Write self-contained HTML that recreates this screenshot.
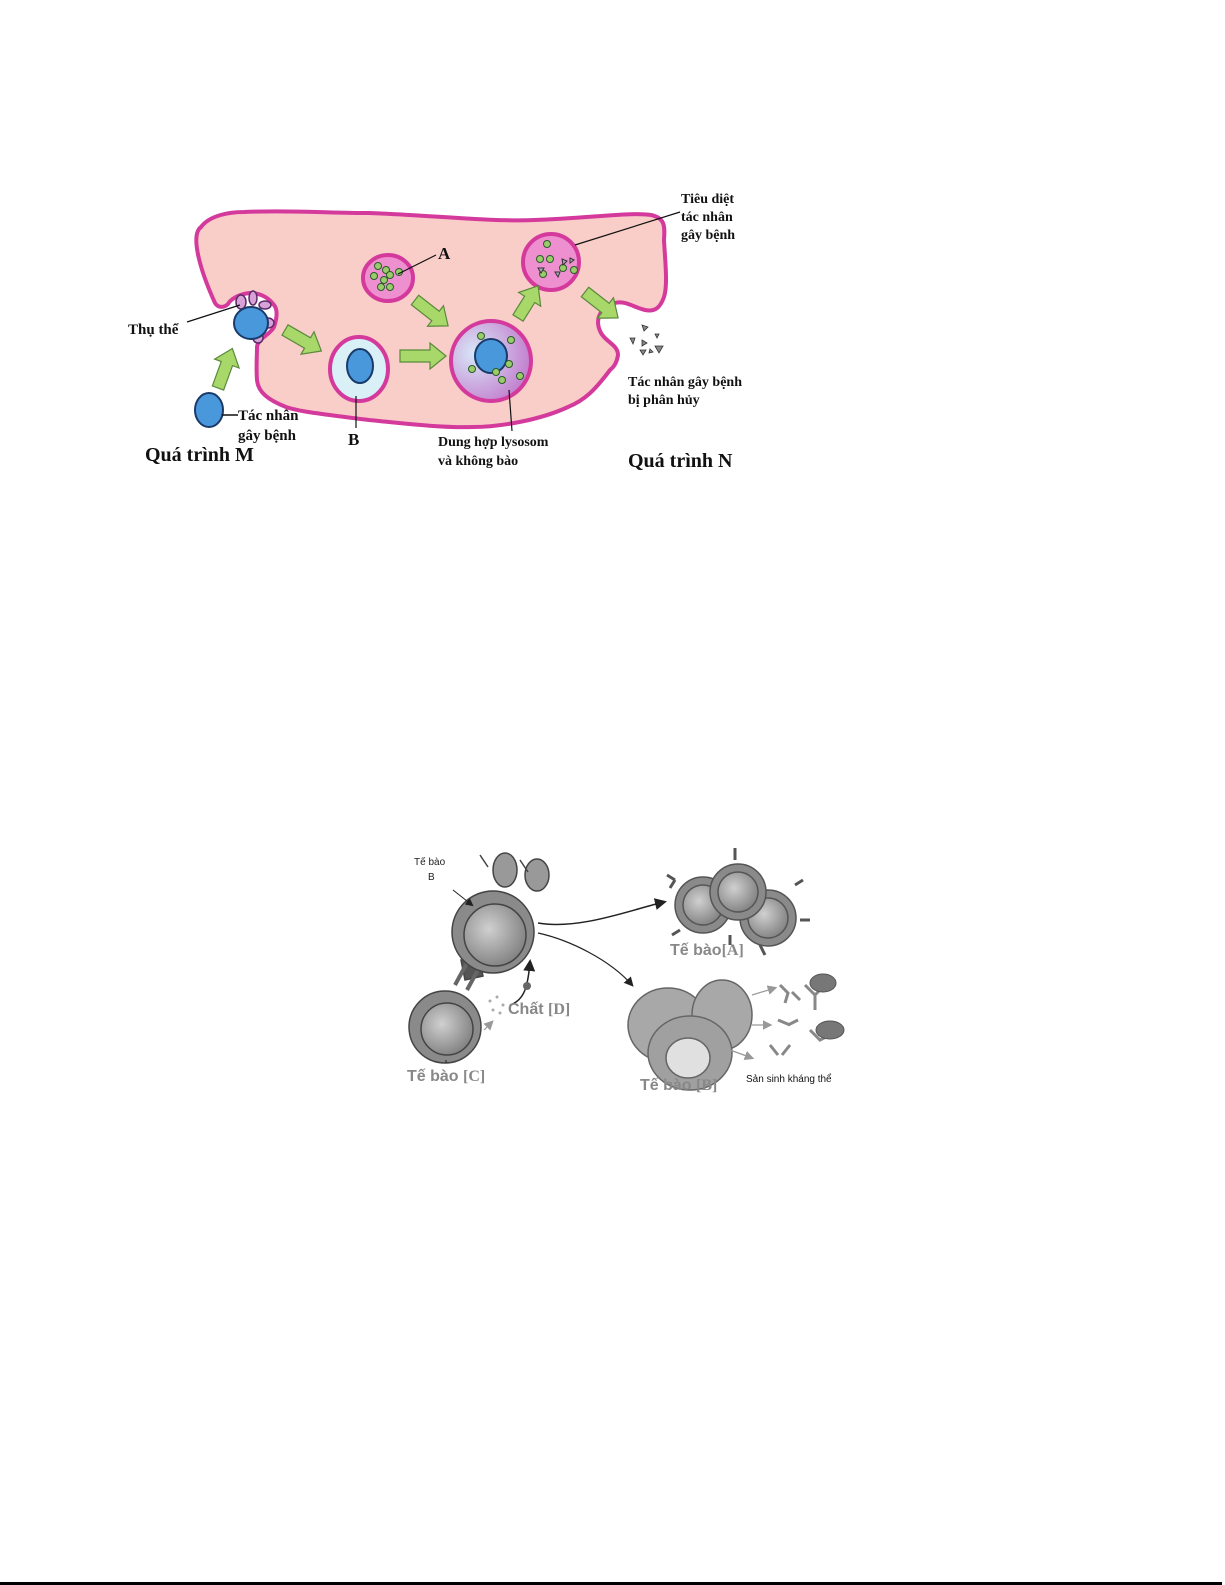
<!DOCTYPE html>
<html><head><meta charset="utf-8">
<style>
html,body{margin:0;padding:0;background:#fff;}
svg{display:block;}
.t{font-family:"Liberation Serif",serif;font-weight:bold;fill:#111;}
.g{font-family:"Liberation Sans",sans-serif;font-weight:bold;fill:#888;}
</style></head><body>
<svg width="1225" height="1585" viewBox="0 0 1225 1585" xmlns="http://www.w3.org/2000/svg">
<defs>
<radialGradient id="fus" cx="0.3" cy="0.4" r="0.8"><stop offset="0" stop-color="#d8e8f8"/><stop offset="1" stop-color="#c070c8"/></radialGradient>
<radialGradient id="gc" cx="0.4" cy="0.4" r="0.7"><stop offset="0" stop-color="#d0d0d0"/><stop offset="1" stop-color="#7a7a7a"/></radialGradient>
<marker id="ah" markerWidth="8" markerHeight="8" refX="6" refY="4" orient="auto"><path d="M0,0 L8,4 L0,8 z" fill="#222"/></marker>
<marker id="ag" markerWidth="8" markerHeight="8" refX="6" refY="4" orient="auto"><path d="M0,0 L8,4 L0,8 z" fill="#999"/></marker>
</defs>
<!-- cell -->
<path d="M215,303 C200,270 190,235 201,227 C210,215 230,212 244,212 C290,210 330,213 369,213 C430,215 490,222 535,220 C590,218 630,212 651,215 C665,218 665,226 664,240 C665,260 668,285 664,297 C660,308 655,312 645,310 C635,308 625,300 615,303 C600,307 594,320 601,333 C606,342 618,345 618,355 C617,362 614,367 610,370 C595,390 585,400 568,407 C540,420 500,427 473,427 C440,428 400,423 369,420 C330,415 300,412 286,407 C268,400 258,392 257,380 C256,368 257,355 257,347 C258,338 270,335 274,327 C277,318 278,310 274,305 C268,297 260,293 250,293 C238,294 230,300 228,304 C224,308 218,308 215,303 Z" fill="#f9cdc8" stroke="#d4399c" stroke-width="4"/>
<!-- receptor cell -->
<ellipse cx="241" cy="302" rx="5" ry="7" fill="#d9a2d6" stroke="#5a2a6a" stroke-width="1.5"/>
<ellipse cx="253" cy="298" rx="4" ry="7" fill="#d9a2d6" stroke="#5a2a6a" stroke-width="1.5"/>
<ellipse cx="265" cy="305" rx="6" ry="4" fill="#d9a2d6" stroke="#5a2a6a" stroke-width="1.5"/>
<ellipse cx="268" cy="323" rx="6" ry="5" fill="#d9a2d6" stroke="#5a2a6a" stroke-width="1.5"/>
<ellipse cx="258" cy="338" rx="5" ry="5" fill="#d9a2d6" stroke="#5a2a6a" stroke-width="1.5"/>
<ellipse cx="251" cy="323" rx="17" ry="16" fill="#4a98dc" stroke="#1a3a6a" stroke-width="2"/>
<!-- pathogen -->
<ellipse cx="209" cy="410" rx="14" ry="17" fill="#4a98dc" stroke="#1a3a6a" stroke-width="2"/>
<line x1="222" y1="415" x2="238" y2="415" stroke="#111" stroke-width="1.5"/>
<!-- A vesicle -->
<ellipse cx="388" cy="278" rx="25" ry="23" fill="#ee8fd0" stroke="#d4399c" stroke-width="4"/>
<g fill="#9acd6a" stroke="#2a5a2a" stroke-width="1">
<circle cx="378" cy="266" r="3.5"/><circle cx="386" cy="270" r="3.5"/><circle cx="374" cy="276" r="3.5"/><circle cx="384" cy="280" r="3.5"/><circle cx="390" cy="275" r="3.5"/><circle cx="399" cy="272" r="3.5"/><circle cx="381" cy="287" r="3.5"/><circle cx="390" cy="287" r="3.5"/></g>
<line x1="398" y1="274" x2="436" y2="255" stroke="#111" stroke-width="1.2"/>
<!-- top right vesicle -->
<ellipse cx="551" cy="262" rx="28" ry="28" fill="#ee8fd0" stroke="#d4399c" stroke-width="4"/>
<g fill="#9acd6a" stroke="#2a5a2a" stroke-width="1">
<circle cx="547" cy="244" r="3.5"/><circle cx="540" cy="259" r="3.5"/><circle cx="550" cy="259" r="3.5"/><circle cx="563" cy="268" r="3.5"/><circle cx="574" cy="270" r="3.5"/><circle cx="543" cy="274" r="3.5"/></g>
<g fill="#aab" stroke="#333" stroke-width="1"><path d="M538,268 l6,0 l-3,5z"/><path d="M562,259 l5,2 l-4,4z"/><path d="M555,272 l5,0 l-2,5z"/><path d="M570,258 l4,2 l-4,3z"/></g>
<line x1="575" y1="245" x2="680" y2="212" stroke="#111" stroke-width="1.2"/>
<!-- B vesicle -->
<ellipse cx="359" cy="369" rx="29" ry="32" fill="#d8f0f6" stroke="#d4399c" stroke-width="4"/>
<ellipse cx="360" cy="366" rx="13" ry="17" fill="#4a98dc" stroke="#1a3a6a" stroke-width="2"/>
<line x1="356" y1="396" x2="356" y2="428" stroke="#111" stroke-width="1.2"/>
<!-- fusion vesicle -->
<ellipse cx="491" cy="361" rx="40" ry="40" fill="url(#fus)" stroke="#d4399c" stroke-width="4"/>
<ellipse cx="491" cy="356" rx="16" ry="17" fill="#4a98dc" stroke="#1a3a6a" stroke-width="2"/>
<g fill="#9acd6a" stroke="#2a5a2a" stroke-width="1">
<circle cx="481" cy="336" r="3.5"/><circle cx="511" cy="340" r="3.5"/><circle cx="472" cy="369" r="3.5"/><circle cx="509" cy="364" r="3.5"/><circle cx="496" cy="372" r="3.5"/><circle cx="502" cy="380" r="3.5"/><circle cx="520" cy="376" r="3.5"/></g>
<line x1="509" y1="390" x2="512" y2="431" stroke="#111" stroke-width="1.2"/>
<!-- thu the line -->
<line x1="187" y1="322" x2="240" y2="305" stroke="#111" stroke-width="1.2"/>
<!-- green arrows -->
<g fill="#a8d86a" stroke="#5a8a3a" stroke-width="1.2">
<path d="M0,-6 L26,-6 L26,-13 L42,0 L26,13 L26,6 L0,6 Z" transform="translate(218,388) rotate(-70)"/>
<path d="M0,-6 L26,-6 L26,-13 L42,0 L26,13 L26,6 L0,6 Z" transform="translate(285,330) rotate(30)"/>
<path d="M0,-6 L30,-6 L30,-13 L46,0 L30,13 L30,6 L0,6 Z" transform="translate(400,356) rotate(0)"/>
<path d="M0,-6 L26,-6 L26,-13 L42,0 L26,13 L26,6 L0,6 Z" transform="translate(415,300) rotate(38)"/>
<path d="M0,-6 L22,-6 L22,-13 L38,0 L22,13 L22,6 L0,6 Z" transform="translate(518,318) rotate(-58)"/>
<path d="M0,-6 L26,-6 L26,-13 L42,0 L26,13 L26,6 L0,6 Z" transform="translate(585,292) rotate(38)"/>
</g>
<!-- debris -->
<g fill="#888" stroke="#333" stroke-width="0.8"><path d="M642,325 l6,2 l-4,4z"/><path d="M630,338 l5,0 l-2,6z"/><path d="M642,340 l5,3 l-5,3z"/><path d="M655,334 l4,0 l-2,4z"/><path d="M640,350 l6,0 l-3,5z"/><path d="M655,346 l8,0 l-4,7z"/><path d="M650,349 l3,3 l-4,1z"/></g>
<!-- labels top -->
<text class="t" x="128" y="334" font-size="15">Thụ thể</text>
<text class="t" x="438" y="259" font-size="17">A</text>
<text class="t" x="681" y="203" font-size="14">Tiêu diệt</text>
<text class="t" x="681" y="221" font-size="14">tác nhân</text>
<text class="t" x="681" y="239" font-size="14">gây bệnh</text>
<text class="t" x="238" y="420" font-size="15">Tác nhân</text>
<text class="t" x="238" y="440" font-size="15">gây bệnh</text>
<text class="t" x="348" y="445" font-size="17">B</text>
<text class="t" x="438" y="446" font-size="14">Dung hợp lysosom</text>
<text class="t" x="438" y="465" font-size="14">và không bào</text>
<text class="t" x="628" y="386" font-size="14">Tác nhân gây bệnh</text>
<text class="t" x="628" y="404" font-size="14">bị phân hủy</text>
<text class="t" x="145" y="461" font-size="20">Quá trình M</text>
<text class="t" x="628" y="467" font-size="20">Quá trình N</text>

<!-- bottom diagram -->
<g stroke="#444" stroke-width="1.5" fill="#999">
<ellipse cx="505" cy="870" rx="12" ry="17"/><ellipse cx="537" cy="875" rx="12" ry="16"/>
<path d="M480,855 l8,12 M520,860 l8,12" fill="none"/>
<path d="M461,960 l18,-2 l4,18 l-18,4z" fill="#555"/>
<path d="M455,985 l12,-22 M467,990 l12,-22" fill="none" stroke="#666" stroke-width="4"/>
</g>
<circle cx="493" cy="932" r="41" fill="#8a8a8a" stroke="#444" stroke-width="1.5"/>
<circle cx="495" cy="935" r="31" fill="url(#gc)" stroke="#444" stroke-width="1.5"/>
<circle cx="445" cy="1027" r="36" fill="#8a8a8a" stroke="#444" stroke-width="1.5"/>
<circle cx="447" cy="1029" r="26" fill="url(#gc)" stroke="#444" stroke-width="1.5"/>
<line x1="441" y1="1062" x2="441" y2="1062" stroke="#222"/>
<line x1="446" y1="1063" x2="446" y2="1060" stroke="#222"/>
<line x1="453" y1="890" x2="472" y2="905" stroke="#222" marker-end="url(#ah)"/>
<!-- cells A -->
<g stroke="#555" stroke-width="1.5">
<circle cx="703" cy="905" r="28" fill="#8a8a8a"/><circle cx="703" cy="905" r="20" fill="url(#gc)"/>
<circle cx="768" cy="918" r="28" fill="#8a8a8a"/><circle cx="768" cy="918" r="20" fill="url(#gc)"/>
<circle cx="738" cy="892" r="28" fill="#8a8a8a"/><circle cx="738" cy="892" r="20" fill="url(#gc)"/>
<path d="M675,880 l-8,-5 M675,880 l-5,8 M795,885 l8,-5 M800,920 l10,0 M730,935 l0,10 M760,945 l5,10 M735,860 l0,-12 M680,930 l-8,5" fill="none" stroke-width="3"/>
</g>
<!-- cells B -->
<g stroke="#666" stroke-width="1.5">
<ellipse cx="668" cy="1025" rx="40" ry="37" fill="#a8a8a8"/>
<ellipse cx="722" cy="1015" rx="30" ry="35" fill="#a8a8a8"/>
<ellipse cx="690" cy="1053" rx="42" ry="37" fill="#a0a0a0"/>
<ellipse cx="688" cy="1058" rx="22" ry="20" fill="#e0e0e0"/>
</g>
<g stroke="#888" stroke-width="3" fill="none">
<path d="M780,985 l8,8 l-3,10 M800,1000 l-8,-8"/>
<path d="M770,1045 l8,10 M782,1055 l8,-10"/>
<path d="M778,1020 l12,5 M788,1025 l10,-5"/>
<path d="M805,985 l10,10 l10,-10 M815,995 l0,15"/>
<path d="M810,1030 l10,10 l10,-5"/>
</g>
<ellipse cx="823" cy="983" rx="13" ry="9" fill="#777" stroke="#555"/>
<ellipse cx="830" cy="1030" rx="14" ry="9" fill="#777" stroke="#555"/>
<g stroke="#999" stroke-width="1.2" fill="none">
<line x1="752" y1="995" x2="775" y2="988" marker-end="url(#ag)"/>
<line x1="752" y1="1025" x2="770" y2="1025" marker-end="url(#ag)"/>
<line x1="730" y1="1050" x2="752" y2="1058" marker-end="url(#ag)"/>
<path d="M484,1030 l8,-8" marker-end="url(#ag)"/>
</g>
<path d="M538,923 C580,930 630,910 664,902" stroke="#222" stroke-width="1.5" fill="none" marker-end="url(#ah)"/>
<path d="M538,933 C570,940 610,960 632,985" stroke="#222" stroke-width="1.2" fill="none" marker-end="url(#ah)"/>
<path d="M510,1005 C525,1000 528,985 530,962" stroke="#222" stroke-width="1.5" fill="none" marker-end="url(#ah)"/>
<circle cx="527" cy="986" r="4" fill="#666"/>
<g fill="#aaa"><circle cx="490" cy="1001" r="1.5"/><circle cx="497" cy="997" r="1.5"/><circle cx="503" cy="1005" r="1.5"/><circle cx="493" cy="1010" r="1.5"/><circle cx="500" cy="1013" r="1.5"/></g>
<text x="414" y="865" font-family="Liberation Sans,sans-serif" font-size="10" fill="#222">Tế bào</text>
<text x="428" y="880" font-family="Liberation Sans,sans-serif" font-size="10" fill="#222">B</text>
<text class="g" x="670" y="955" font-size="16">Tế bào<tspan font-family="Liberation Serif,serif">[A]</tspan></text>
<text class="g" x="508" y="1014" font-size="16">Chất <tspan font-family="Liberation Serif,serif">[D]</tspan></text>
<text class="g" x="407" y="1081" font-size="16">Tế bào <tspan font-family="Liberation Serif,serif">[C]</tspan></text>
<text class="g" x="640" y="1090" font-size="16">Tế bào <tspan font-family="Liberation Serif,serif">[B]</tspan></text>
<text x="746" y="1082" font-family="Liberation Sans,sans-serif" font-size="10" fill="#111">Sản sinh kháng thể</text>
<rect x="0" y="1582" width="1222" height="3" fill="#000"/>
</svg>
</body></html>
